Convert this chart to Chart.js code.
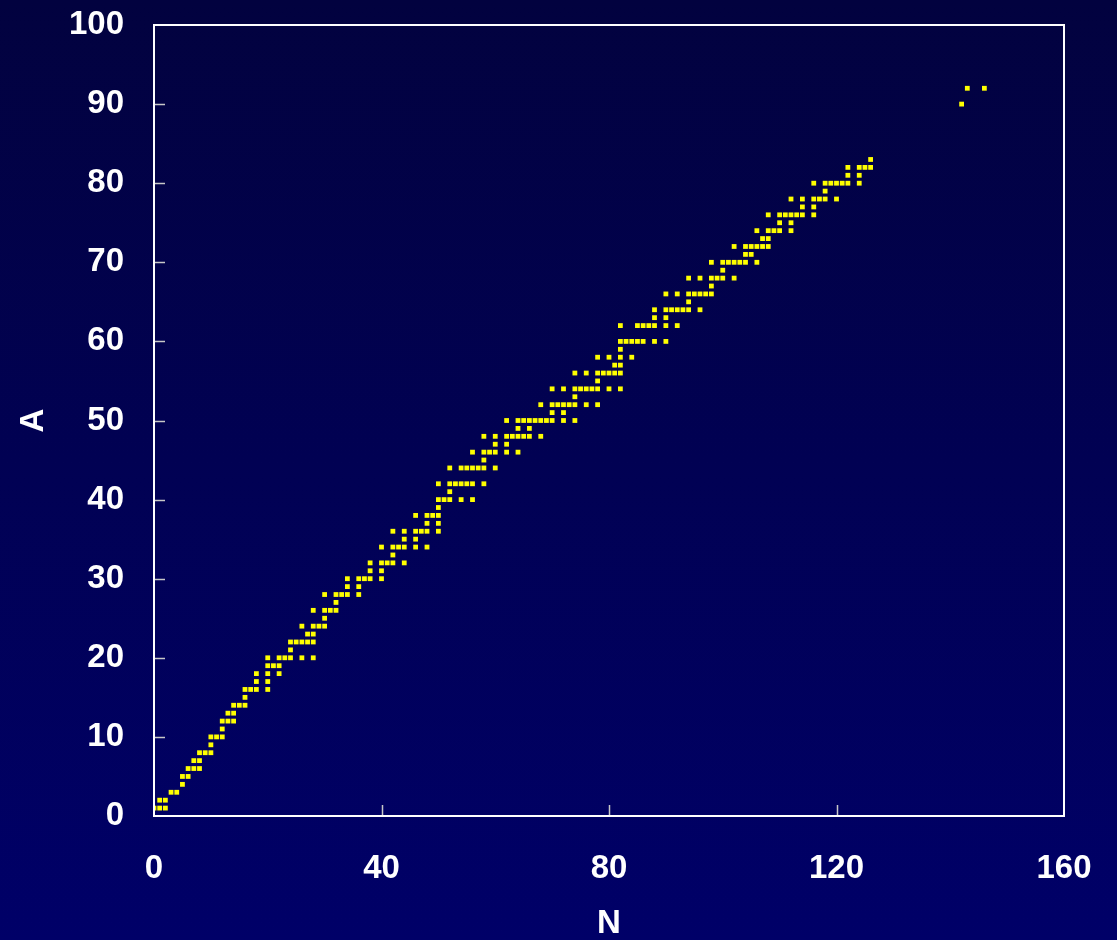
<!DOCTYPE html>
<html>
<head>
<meta charset="utf-8">
<script src="https://cdn.jsdelivr.net/npm/chart.js@4"></script>
<style>
  html, body { margin: 0; padding: 0; }
  body { width: 1117px; height: 940px; background: linear-gradient(#02023f, #000068); overflow: hidden; }
  #wrap { width: 1117px; height: 940px; }
</style>
</head>
<body>
<div id="wrap"><canvas id="nuclideChart" width="1117" height="940"></canvas></div>
<script>
// Z (y) de cada fila y los N (x)
const protonZ = [1, 2, 3, 4, 5, 6, 7, 8, 9, 10, 11, 12, 13, 14, 15, 16, 17, 18, 19, 20,
  21, 22, 23, 24, 25, 26, 27, 28, 29, 30, 31, 32, 33, 34, 35, 36, 37, 38, 39, 40,
  41, 42, 44, 45, 46, 47, 48, 49, 50, 51, 52, 53, 54, 55, 56, 57, 58, 59, 60, 62,
  63, 64, 65, 66, 67, 68, 69, 70, 71, 72, 73, 74, 75, 76, 77, 78, 79, 80, 81, 82,
  83, 90, 92];
const neutronN = [
  [0, 1, 2], [1, 2], [3, 4], [5], [5, 6], [6, 7, 8], [7, 8], [8, 9, 10], [10], [10, 11, 12],
  [12], [12, 13, 14], [13, 14], [14, 15, 16], [16], [16, 17, 18, 20], [18, 20], [18, 20, 22],
  [20, 21, 22], [20, 22, 23, 24, 26, 28],
  [24], [24, 25, 26, 27, 28], [27, 28], [26, 28, 29, 30], [30], [28, 30, 31, 32], [32],
  [30, 32, 33, 34, 36], [34, 36], [34, 36, 37, 38, 40], [38, 40], [38, 40, 41, 42, 44], [42],
  [40, 42, 43, 44, 46, 48], [44, 46], [42, 44, 46, 47, 48, 50], [48, 50], [46, 48, 49, 50],
  [50], [50, 51, 52, 54, 56],
  [52], [50, 52, 53, 54, 55, 56, 58], [52, 54, 55, 56, 57, 58, 60], [58], [56, 58, 59, 60, 62, 64],
  [60, 62], [58, 60, 62, 63, 64, 65, 66, 68], [64, 66], [62, 64, 65, 66, 67, 68, 69, 70, 72, 74],
  [70, 72], [68, 70, 71, 72, 73, 74, 76, 78], [74], [70, 72, 74, 75, 76, 77, 78, 80, 82], [78],
  [74, 76, 78, 79, 80, 81, 82], [81, 82], [78, 80, 82, 84], [82], [82, 83, 84, 85, 86, 88, 90],
  [82, 85, 86, 87, 88, 90, 92],
  [88, 90], [88, 90, 91, 92, 93, 94, 96], [94], [90, 92, 94, 95, 96, 97, 98], [98],
  [94, 96, 98, 99, 100, 102], [100], [98, 100, 101, 102, 103, 104, 106], [104, 105],
  [102, 104, 105, 106, 107, 108], [107, 108], [106, 108, 109, 110, 112], [110, 112],
  [108, 110, 111, 112, 113, 114, 116], [114, 116], [112, 114, 116, 117, 118, 120], [118],
  [116, 118, 119, 120, 121, 122, 124], [122, 124], [122, 124, 125, 126],
  [126], [142], [143, 146]
];
const xTicks = [0, 40, 80, 120, 160];
const yTicks = [0, 10, 20, 30, 40, 50, 60, 70, 80, 90, 100];

const points = [];
protonZ.forEach((z, i) => {
  neutronN[i].forEach(n => points.push({ x: n, y: z }));
});

const labelFont = { family: '"Liberation Sans", Arial, sans-serif', size: 33, weight: 'bold', lineHeight: 1 };

// marco blanco y marcas hacia dentro
const framePlugin = {
  id: 'frame',
  afterDatasetsDraw(chart) {
    const { ctx, chartArea: a, scales } = chart;
    ctx.save();
    ctx.strokeStyle = '#c8c8c8';
    ctx.lineWidth = 1.5;
    ctx.beginPath();
    yTicks.slice(1, -1).forEach(v => {
      const py = Math.round(scales.y.getPixelForValue(v)) + 0.5;
      ctx.moveTo(a.left, py); ctx.lineTo(a.left + 11, py);
    });
    xTicks.slice(1, -1).forEach(v => {
      const px = Math.round(scales.x.getPixelForValue(v)) + 0.5;
      ctx.moveTo(px, a.bottom); ctx.lineTo(px, a.bottom - 11);
    });
    ctx.stroke();
    ctx.strokeStyle = '#ffffff';
    ctx.lineWidth = 2;
    ctx.strokeRect(a.left, a.top, a.right - a.left, a.bottom - a.top);
    ctx.restore();
  }
};

const ctx = document.getElementById('nuclideChart').getContext('2d');
const chart = new Chart(ctx, {
  type: 'scatter',
  data: {
    datasets: [{
      data: points,
      pointStyle: 'rect',
      pointRadius: 3.4,
      pointBorderWidth: 0,
      backgroundColor: '#ffff00',
      borderColor: '#ffff00'
    }]
  },
  options: {
    responsive: false,
    animation: false,
    layout: { padding: { top: 25, right: 53, left: 0, bottom: 0 } },
    plugins: { legend: { display: false }, tooltip: { enabled: false } },
    scales: {
      x: {
        type: 'linear',
        min: 0,
        max: 160,
        afterBuildTicks: s => { s.ticks = xTicks.map(v => ({ value: v })); },
        afterFit: s => { s.height = 124; s.paddingLeft = 0; s.paddingRight = 0; },
        grid: { display: false, drawTicks: false },
        border: { display: false },
        ticks: { color: '#ffffff', font: labelFont, padding: 36, maxRotation: 0 },
        title: { display: true, text: 'N', color: '#ffffff', font: labelFont, padding: { top: 0, bottom: 0 } }
      },
      y: {
        type: 'linear',
        min: 0,
        max: 100,
        afterBuildTicks: s => { s.ticks = yTicks.map(v => ({ value: v })); },
        afterFit: s => { s.width = 154; s.paddingTop = 0; s.paddingBottom = 0; },
        grid: { display: false, drawTicks: false },
        border: { display: false },
        ticks: { color: '#ffffff', font: labelFont, padding: 30 },
        title: { display: true, text: 'A', color: '#ffffff', font: labelFont, padding: { top: 17, bottom: 0 } }
      }
    }
  },
  plugins: [framePlugin]
});
</script>
</body>
</html>
